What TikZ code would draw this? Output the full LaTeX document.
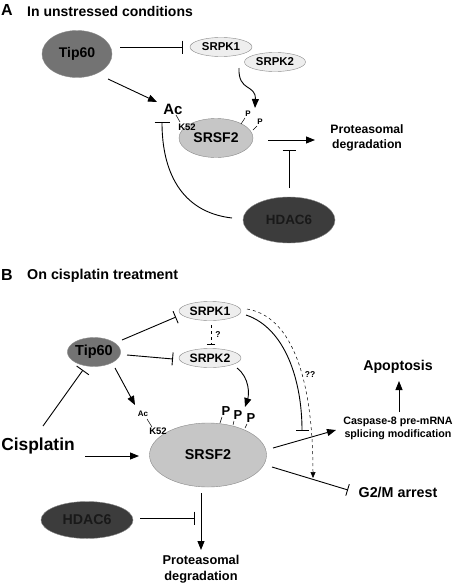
\documentclass[tikz,border=0pt]{standalone}
\usepackage{fontspec}
\setmainfont{Liberation Sans}
\usetikzlibrary{shapes.geometric,arrows.meta}
\newcommand{\myfs}[2][]{\fontsize{#2}{#2}\selectfont\bfseries}
\definecolor{tipc}{HTML}{737373}
\definecolor{srpkc}{HTML}{EEEEEE}
\definecolor{srsfc}{HTML}{C6C6C6}
\definecolor{hdacc}{HTML}{3C3C3C}
\definecolor{edgec}{HTML}{8A8A8A}
\begin{document}
\begin{tikzpicture}[x=1pt,y=-1pt,
  ell/.style={ellipse,inner sep=0pt,draw=edgec,line width=0.4pt},
  lbl/.style={inner sep=0pt},
  act/.style={line width=0.9pt,-{Triangle[length=9pt,width=7pt]}},
  inh/.style={line width=0.9pt,-{Bar[width=13pt,line width=0.9pt]}},
  tick/.style={line width=0.5pt},
]
\useasboundingbox[fill=white] (0,0) rectangle (454,584);

% ---------------- Panel A ----------------
\node[lbl,anchor=west,font=\myfs{16}] (labA) at (1,10) {A};
\node[lbl,anchor=west,font=\myfs{14}] (titA) at (27,11) {In unstressed conditions};

\node[ell,fill=tipc,minimum width=70pt,minimum height=47pt,font=\myfs{14}] (tipA) at (77,54) {Tip60};
\node[ell,fill=srpkc,minimum width=62pt,minimum height=19pt,font=\myfs{11.4}] (k1A) at (221,47) {SRPK1};
\node[ell,fill=srpkc,minimum width=61pt,minimum height=19pt,font=\myfs{11.4}] (k2A) at (275,62) {SRPK2};
\node[ell,fill=srsfc,minimum width=74pt,minimum height=39pt,font=\myfs{14}] (sA) at (216,138) {SRSF2};
\node[lbl,font=\myfs{15}] (acA) at (173,109) {Ac};
\node[lbl,font=\myfs{9.5}] (kA) at (187,127) {K52};
\node[lbl,font=\myfs{8}] (p1A) at (248,114) {P};
\node[lbl,font=\myfs{8}] (p2A) at (260,122) {P};
\node[lbl,font={\fontsize{12.2}{15}\selectfont\bfseries},align=center] (protA) at (367,138) {Proteasomal\\degradation};
\node[ell,fill=hdacc,text=black!90,minimum width=92pt,minimum height=46pt,font=\myfs{13.4}] (hA) at (289,220) {HDAC6};

\coordinate (a1s) at (108,79);
\coordinate (a1e) at (157,102);
\coordinate (a2s) at (239,68);
\coordinate (a2e) at (255,108);
\coordinate (a3s) at (176,115);
\coordinate (a3e) at (180,122);
\coordinate (t1s) at (241,124);
\coordinate (t1e) at (245,118);
\coordinate (t2s) at (253,130);
\coordinate (t2e) at (257,126);
\coordinate (a4s) at (268,140);
\coordinate (a4e) at (315,140);
\coordinate (a5s) at (289,188);
\coordinate (a5e) at (289,150);
\coordinate (a6s) at (232,218);
\coordinate (a6e) at (162,122);

\draw[inh] ([xshift=8pt]tipA.east |- k1A.west) -- ([xshift=-7pt]k1A.west);
\draw[act] (a1s) -- (a1e);
\draw[act] (a2s) .. controls (238,92) and (256,84) .. (a2e);
\draw[tick] (a3s) -- (a3e);
\draw[tick] (t1s) -- (t1e);
\draw[tick] (t2s) -- (t2e);
\draw[act] (a4s) -- (a4e);
\draw[inh] (a5s) -- (a5e);
\draw[line width=0.9pt,-{Bar[width=15pt,line width=0.9pt]}] (a6s) .. controls (180,212) and (162,170) .. (a6e);

% ---------------- Panel B ----------------
\node[lbl,anchor=west,font=\myfs{16}] (labB) at (1,275) {B};
\node[lbl,anchor=west,font=\myfs{14.3}] (titB) at (27,276) {On cisplatin treatment};

\node[ell,fill=srpkc,minimum width=62pt,minimum height=19pt,font=\myfs{12.2}] (k1B) at (210,311) {SRPK1};
\node[ell,fill=srpkc,minimum width=62pt,minimum height=19pt,font=\myfs{12.2}] (k2B) at (210,358) {SRPK2};
\node[ell,fill=tipc,minimum width=48pt,minimum height=29pt,font=\myfs{14.5}] (tipB) at (94,352) {Tip60};
\node[ell,fill=srsfc,minimum width=117pt,minimum height=64pt,font=\myfs{14.3}] (sB) at (208,455) {SRSF2};
\node[lbl,font=\myfs{8}] (acB) at (143,414) {Ac};
\node[lbl,font=\myfs{9.5}] (kB) at (158,431) {K52};
\node[lbl,font=\myfs{13}] (p1B) at (226,411) {P};
\node[lbl,font=\myfs{13}] (p2B) at (238,415) {P};
\node[lbl,font=\myfs{13}] (p3B) at (251,418) {P};
\node[lbl,font=\myfs{17.4}] (cis) at (38,446) {Cisplatin};
\node[ell,fill=hdacc,text=black!90,minimum width=92pt,minimum height=37pt,font=\myfs{14.2}] (hB) at (87,520) {HDAC6};
\node[lbl,font={\fontsize{12.8}{15.5}\selectfont\bfseries},align=center] (protB) at (201,569) {Proteasomal\\degradation};
\node[lbl,font={\fontsize{10.7}{12.8}\selectfont\bfseries},align=center] (casp) at (398,428) {Caspase-8 pre-mRNA\\splicing modification};
\node[lbl,font=\myfs{14.2}] (apo) at (398,367) {Apoptosis};
\node[lbl,font=\myfs{14.3}] (g2m) at (398,492) {G2/M arrest};
\node[lbl,font=\myfs{8.5}] (q1) at (218,335) {?};
\node[lbl,font=\myfs{8.5}] (q2) at (310,375) {??};

\coordinate (b1s) at (122,340);
\coordinate (b1e) at (176,317);
\coordinate (b2s) at (127,355);
\coordinate (b2e) at (173,359);
\coordinate (b3s) at (211,325);
\coordinate (b3e) at (211,345);
\coordinate (b4s) at (237,368);
\coordinate (b4e) at (245,407);
\coordinate (b5s) at (115,368);
\coordinate (b5e) at (135,405);
\coordinate (b6s) at (147,419);
\coordinate (b6e) at (152,427);
\coordinate (u1s) at (220,423);
\coordinate (u1e) at (222,417);
\coordinate (u2s) at (233,425);
\coordinate (u2e) at (234,421);
\coordinate (u3s) at (245,428);
\coordinate (u3e) at (247,424);
\coordinate (b7s) at (43,426);
\coordinate (b7e) at (83,370);
\coordinate (b8s) at (85,456);
\coordinate (b8e) at (139,456);
\coordinate (b9s) at (140,518);
\coordinate (b9e) at (195,518);
\coordinate (b10s) at (201,493);
\coordinate (b10e) at (201,550);
\coordinate (b11s) at (246,315);
\coordinate (b11e) at (302,431);
\coordinate (b12s) at (247,309);
\coordinate (b12e) at (313,478);
\coordinate (b13s) at (273,448);
\coordinate (b13e) at (336,430);
\coordinate (b14s) at (399,412);
\coordinate (b14e) at (399,381);
\coordinate (b15s) at (272,467);
\coordinate (b15e) at (348,490);

\draw[inh] (b1s) -- (b1e);
\draw[inh] (b2s) -- (b2e);
\draw[line width=0.5pt,dashed,-{Bar[width=8pt,line width=0.6pt]}] (b3s) -- (b3e);
\draw[act] (b4s) .. controls (250,378) and (249,395) .. (b4e);
\draw[act] (b5s) -- (b5e);
\draw[tick] (b6s) -- (b6e);
\draw[tick] (u1s) -- (u1e);
\draw[tick] (u2s) -- (u2e);
\draw[tick] (u3s) -- (u3e);
\draw[line width=0.9pt,-{Bar[width=15pt,line width=0.9pt]}] (b7s) -- (b7e);
\draw[act] (b8s) -- (b8e);
\draw[inh] (b9s) -- (b9e);
\draw[act] (b10s) -- (b10e);
\draw[inh] (b11s) .. controls (285,328) and (302,380) .. (b11e);
\draw[line width=0.5pt,dashed,-{Triangle[length=6pt,width=5pt]}] (b12s) .. controls (300,318) and (313,400) .. (b12e);
\draw[act] (b13s) -- (b13e);
\draw[act] (b14s) -- (b14e);
\draw[line width=0.9pt,-{Bar[width=12pt,line width=0.9pt]}] (b15s) -- (b15e);
\end{tikzpicture}
\end{document}
